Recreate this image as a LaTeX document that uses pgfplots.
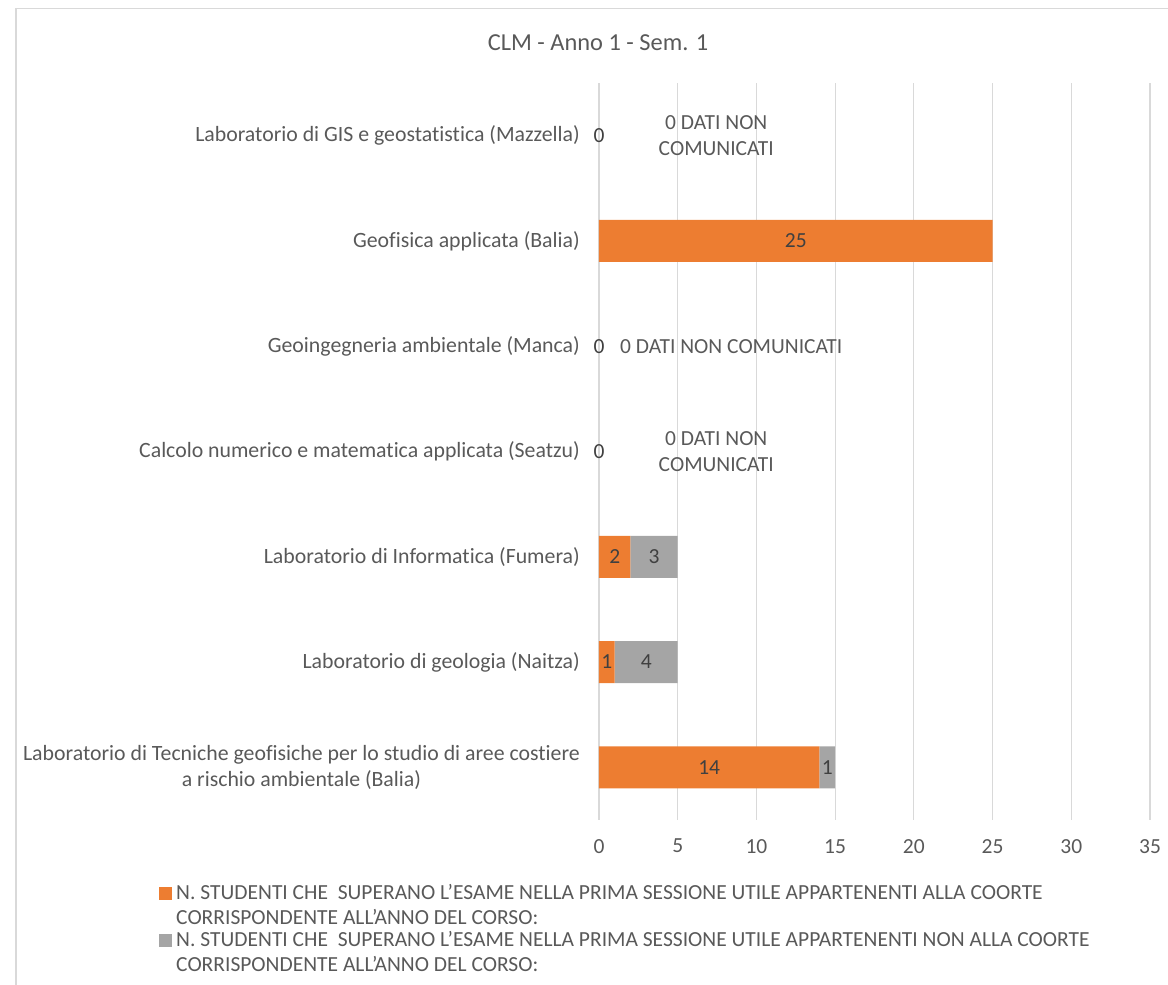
\documentclass[border=0pt]{standalone}
\usepackage{fontspec}
\defaultfontfeatures{}
\setmainfont{Carlito}[Ligatures={ResetAll,NoCommon}]
\usepackage{pgfplots}
\pgfplotsset{compat=1.18}
\definecolor{xlorange}{HTML}{ED7D31}
\definecolor{xlgrey}{HTML}{A5A5A5}
\definecolor{gridc}{HTML}{D9D9D9}
\definecolor{txt}{HTML}{595959}
\definecolor{lbl}{HTML}{404040}
\newcommand{\lf}{\fontsize{21.5}{25.5}\selectfont}
\newcommand{\yf}{\fontsize{21.8}{25.8}\selectfont}
\newcommand{\gf}{\fontsize{21.5}{24.6}\selectfont}
\begin{document}
\begin{tikzpicture}
\path[use as bounding box] (0,0) rectangle (1168pt,985pt);
\draw[gridc, line width=1.3pt] (16pt,0) -- (16pt,976.5pt) -- (1168pt,976.5pt);
\node[font=\fontsize{24.4}{28}\selectfont, text=txt, inner sep=0pt] at (598pt,942pt) {CLM - Anno 1 - Sem. 1};
\begin{axis}[
  at={(599pt,165pt)}, anchor=south west,
  scale only axis, width=551pt, height=737pt,
  xbar stacked, bar width=42pt,
  xmin=0, xmax=35, ymin=-0.5, ymax=6.5,
  xtick={0,5,...,35}, ytick={0,...,6},
  yticklabels={{Laboratorio di Tecniche geofisiche per lo studio di aree costiere\\a rischio ambientale (Balia)},
    {Laboratorio di geologia (Naitza)},
    {Laboratorio di Informatica (Fumera)},
    {Calcolo numerico e matematica applicata (Seatzu)},
    {Geoingegneria ambientale (Manca)},
    {Geofisica applicata (Balia)},
    {Laboratorio di GIS e geostatistica (Mazzella)}},
  yticklabel style={align=center, font=\yf, text=txt, inner sep=0pt, xshift=-19pt},
  xticklabel style={font=\lf, text=txt, inner sep=0pt, yshift=-19pt},
  /pgf/number format/assume math mode=true,
  xmajorgrids, grid style={gridc, line width=1.2pt},
  axis line style={draw=none}, major tick length=0pt,
  point meta=explicit symbolic,
  nodes near coords,
  nodes near coords style={anchor=center, font=\lf, text=lbl, inner sep=0pt},
  legend style={at={(-0.7985,-0.0875)}, anchor=north west, draw=none, fill=none, inner sep=0pt,
    row sep=30.5pt, column sep=4.5pt, font=\gf, text=txt,
    nodes={anchor=base west, inner sep=0pt}},
  legend cell align=left,
  legend image code/.code={\fill[#1] (0pt,0pt) rectangle (12.5pt,13pt);},
  clip=false,
]
\addplot[fill=xlorange, draw=none] coordinates {
  (14,0) [14] (1,1) [1] (2,2) [2] (0,3) [{}] (0,4) [{}] (25,5) [25] (0,6) [{}]};
\addplot[fill=xlgrey, draw=none] coordinates {
  (1,0) [1] (4,1) [4] (3,2) [3] (0,3) [{}] (0,4) [{}] (0,5) [{}] (0,6) [{}]};
\addlegendentry{\parbox[t]{950pt}{N. STUDENTI CHE\ \ SUPERANO L'ESAME NELLA PRIMA SESSIONE UTILE APPARTENENTI ALLA COORTE\\CORRISPONDENTE ALL'ANNO DEL CORSO:}}
\addlegendentry{\parbox[t]{950pt}{N. STUDENTI CHE\ \ SUPERANO L'ESAME NELLA PRIMA SESSIONE UTILE APPARTENENTI NON ALLA COORTE\\CORRISPONDENTE ALL'ANNO DEL CORSO:}}
\node[font=\lf, text=lbl, inner sep=0pt] at (axis cs:0,6) {0};
\node[font=\lf, text=lbl, inner sep=0pt] at (axis cs:0,4) {0};
\node[font=\lf, text=lbl, inner sep=0pt] at (axis cs:0,3) {0};
\node[font=\lf, text=txt, align=center, inner sep=0pt] at (axis cs:7.45,6) {0 DATI NON\\COMUNICATI};
\node[font=\lf, text=txt, align=center, inner sep=0pt] at (axis cs:8.4,4) {0 DATI NON COMUNICATI};
\node[font=\lf, text=txt, align=center, inner sep=0pt] at (axis cs:7.45,3) {0 DATI NON\\COMUNICATI};
\end{axis}
\end{tikzpicture}
\end{document}
